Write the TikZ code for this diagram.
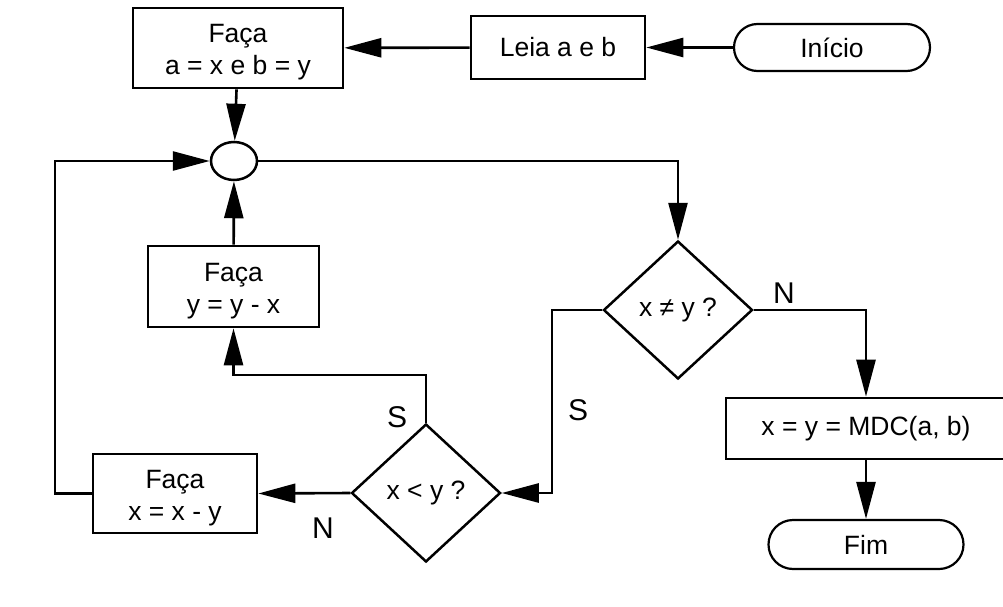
\documentclass[tikz,border=0pt]{standalone}
\usepackage{fontspec}
\setmainfont{Liberation Sans}
\usetikzlibrary{arrows.meta,shapes.geometric,shapes.misc}

% tall strut for the first line of two-line boxes
\newcommand{\firstline}{\rule{0pt}{27.5pt}}

\begin{document}
\begin{tikzpicture}[x=1pt,y=-1pt,
  every node/.style={font=\fontsize{26.5}{32}\selectfont},
  procbox/.style={draw,rectangle,line width=2.6pt,inner sep=0pt,align=center},
  terminal/.style={draw,rounded rectangle,line width=2.2pt,inner sep=0pt},
  decision/.style={draw,diamond,line width=2.5pt,inner sep=0pt,
    minimum width=149pt,minimum height=138pt},
  junction/.style={draw,ellipse,line width=2.5pt,inner sep=0pt,
    minimum width=46pt,minimum height=38pt},
  flow/.style={line width=2.6pt,-{Triangle[length=37pt,width=19pt]}},
  branch/.style={font=\fontsize{30}{36}\selectfont,inner sep=0pt}
]
\useasboundingbox (0,0) rectangle (1003,607);

% blocks
\node[procbox,minimum width=210pt,minimum height=80pt] (init) at (238,48) {\firstline Faça\\a = x e b = y};
\node[procbox,minimum width=174pt,minimum height=63pt] (read) at (558,47.5) {Leia a e b};
\node[terminal,minimum width=196pt,minimum height=47pt] (start) at (832,47.5) {Início};
\node[junction] (join) at (234,161) {};
\node[procbox,minimum width=171pt,minimum height=81pt] (suby) at (233.5,286.5) {\firstline Faça\\y = y - x};
\node[decision] (neq) at (678,310) {x ≠ y ?};
\node[decision] (lt) at (426,493) {x < y ?};
\node[procbox,minimum width=164pt,minimum height=79pt] (subx) at (175,493.5) {\firstline Faça\\x = x - y};
\node[procbox,minimum width=280pt,minimum height=61pt] (result) at (866,428.5) {x = y = MDC(a, b)};
\node[terminal,minimum width=195pt,minimum height=49pt] (stop) at (866,544.5) {Fim};

% bend points
\coordinate (sbend) at (552,310);
\coordinate (ylevel) at (0,375);
\coordinate (loop) at (55,161);

% connectors
\draw[flow] (start) -- (read);
\draw[flow] (read) -- (init);
\draw[flow] (init) -- (join);
\draw[flow] (suby) -- (join);
\draw[flow] (join.east) -| (neq.north);
\draw[flow] (neq.west) -- (sbend) |- (lt.east);
\draw[flow] (lt.north) -- (lt.north |- ylevel) -| (suby.south);
\draw[flow] (lt.west) -- (subx.east);
\draw[flow] (subx.west) -| (loop) -- (join.west);
\draw[flow] (neq.east) -| (result.north);
\draw[flow] (result) -- (stop);

% branch labels
\node[branch] (sneq) at (578,410) {S};
\node[branch] (nneq) at (784,293) {N};
\node[branch] (slt) at (397,417) {S};
\node[branch] (nlt) at (323,528) {N};
\end{tikzpicture}
\end{document}
